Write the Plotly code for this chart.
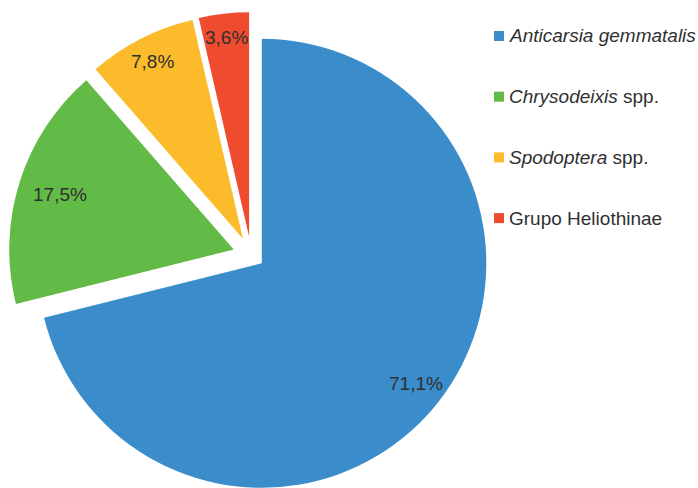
import math
import plotly.graph_objects as go

# Share of each lepidopteran group (%)
labels = ["Anticarsia gemmatalis", "Chrysodeixis spp.", "Spodoptera spp.", "Grupo Heliothinae"]
legend_text = ["<i>Anticarsia gemmatalis</i>", "<i>Chrysodeixis</i> spp.",
               "<i>Spodoptera</i> spp.", "Grupo Heliothinae"]
values = [71.1, 17.5, 7.8, 3.6]

colors = ["#3a8cca", "#63bb47", "#fcbb2b", "#ef4b2f"]
explode = [0.06, 0.0815, 0.0815, 0.0815]   # radial offset of each slice, fraction of radius
label_r = [0.87, 0.81, 0.885, 0.895]        # label distance from slice apex, fraction of radius

W, H = 698, 488
R = 224.5                 # pie radius, px
CX, CY = 251.2, 255.0     # common pie centre, px (y downwards)
FONT = "Liberation Sans, Arial, sans-serif"
TXT = "#303030"

total = sum(values)
mids = []
acc = 0.0
for v in values:
    mids.append(math.radians(360.0 * (acc + v / 2) / total))
    acc += v

fig = go.Figure()
annotations = []
shapes = []

for i, v in enumerate(values):
    ux, uy = math.sin(mids[i]), -math.cos(mids[i])
    cx = CX + explode[i] * R * ux
    cy = CY + explode[i] * R * uy
    slice_cols = [colors[j] if j == i else "rgba(0,0,0,0)" for j in range(len(values))]
    fig.add_trace(go.Pie(
        labels=labels,
        values=values,
        sort=False,
        direction="clockwise",
        rotation=0,
        marker=dict(colors=slice_cols, line=dict(width=0)),
        textinfo="none",
        hoverinfo="label+percent",
        showlegend=False,
        domain=dict(
            x=[max(0.0, (cx - R) / W), min(1.0, (cx + R) / W)],
            y=[max(0.0, 1 - (cy + R) / H), min(1.0, 1 - (cy - R) / H)],
        ),
    ))
    # value label inside the slice
    lx = cx + label_r[i] * R * ux
    ly = cy + label_r[i] * R * uy
    annotations.append(dict(
        x=lx / W, y=1 - ly / H, xref="paper", yref="paper",
        text=f"{v:.1f}%".replace(".", ","), showarrow=False,
        xanchor="center", yanchor="middle",
        font=dict(family=FONT, size=19, color=TXT),
    ))

# legend: coloured squares with labels
for i, name in enumerate(legend_text):
    yc = 36 + i * 60.7
    shapes.append(dict(
        type="rect", xref="paper", yref="paper",
        x0=494 / W, x1=504 / W, y0=1 - (yc + 5) / H, y1=1 - (yc - 5) / H,
        fillcolor=colors[i], line=dict(width=0),
    ))
    annotations.append(dict(
        x=507 / W, y=1 - yc / H, xref="paper", yref="paper",
        text=name, showarrow=False, xanchor="left", yanchor="middle",
        font=dict(family=FONT, size=19, color=TXT),
    ))

fig.update_layout(
    width=W, height=H,
    margin=dict(l=0, r=0, t=0, b=0),
    paper_bgcolor="white",
    plot_bgcolor="white",
    showlegend=False,
    annotations=annotations,
    shapes=shapes,
)

fig.write_html("out.html")
